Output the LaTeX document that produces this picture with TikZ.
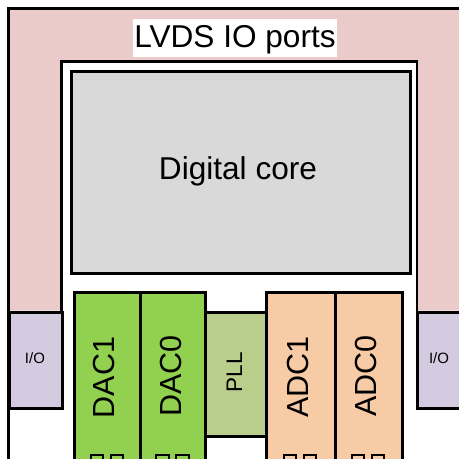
\documentclass[tikz,border=0pt]{standalone}
\usepackage{fontspec}
\setmainfont{Liberation Sans}
\definecolor{lvdspink}{HTML}{EACBCA}
\definecolor{iolav}{HTML}{D4CBE1}
\definecolor{coregray}{HTML}{D9D9D9}
\definecolor{dacgreen}{HTML}{92D050}
\definecolor{pllgreen}{HTML}{B8CE8A}
\definecolor{adcpeach}{HTML}{F8CBA7}
\begin{document}
\begin{tikzpicture}[x=1pt,y=-1pt,line join=miter,
  blockbox/.style={draw=black,line width=3pt,anchor=north west,inner sep=0pt},
  biglbl/.style={inner sep=0pt,text height=22.6pt,text depth=0pt,font=\fontsize{31.6pt}{36pt}\selectfont},
  rotlbl/.style={inner sep=0pt,text height=21.8pt,text depth=0pt,rotate=90,font=\fontsize{30.5pt}{34pt}\selectfont},
  plllbl/.style={inner sep=0pt,text height=16.1pt,text depth=0pt,rotate=90,font=\fontsize{22.5pt}{26pt}\selectfont},
  iolbl/.style={inner sep=0pt,text height=10.7pt,text depth=0pt,font=\fontsize{15pt}{18pt}\selectfont},
  tofu/.style={draw=black,line width=2pt,anchor=north west,inner sep=0pt,minimum width=12.5pt,minimum height=20pt}]
\useasboundingbox (0,0) rectangle (459,459);
\clip (0,0) rectangle (459,459);
\fill[white] (0,0) rectangle (459,459);
% LVDS ring
\fill[lvdspink] (8,8) -- (480,8) -- (480,310.7) -- (416.7,310.7) -- (416.7,61.5) -- (61.5,61.5) -- (61.5,310.7) -- (8,310.7) -- cycle;
\draw[line width=3pt] (8,480) -- (8,8) -- (480,8);
\draw[line width=2.2pt] (61.5,310.7) -- (61.5,61.5) -- (416.7,61.5) -- (416.7,310.7);
\node[fill=white,inner xsep=1.5pt,inner ysep=0pt,text height=27.6pt,text depth=10pt,anchor=base,font=\fontsize{31.6pt}{36pt}\selectfont] (lvds) at (235,47) {LVDS IO ports};
% digital core
\node[blockbox,line width=3.3pt,fill=coregray,minimum width=338.5pt,minimum height=201.5pt] (core) at (70,70) {};
\node[biglbl] (coretext) at (238,168.5) {Digital core};
% IO boxes
\node[blockbox,fill=iolav,minimum width=52.7pt,minimum height=96.6pt] (iol) at (8,310.7) {};
\node[blockbox,fill=iolav,minimum width=60pt,minimum height=96.6pt] (ior) at (416.3,310.7) {};
\node[iolbl] (iolt) at (35,358.5) {I/O};
\node[iolbl] (iort) at (439,358.5) {I/O};
% PLL
\node[blockbox,fill=pllgreen,minimum width=61pt,minimum height=124pt] (pll) at (204,310.5) {};
\node[plllbl] (pllt) at (234,372) {PLL};
% DACs
\node[blockbox,fill=dacgreen,minimum width=65.7pt,minimum height=200pt] (dac1) at (73,291) {};
\node[blockbox,fill=dacgreen,minimum width=65.3pt,minimum height=200pt] (dac0) at (138.7,291) {};
\node[rotlbl] (dac1t) at (103.5,377.5) {DAC1};
\node[rotlbl] (dac0t) at (171,376) {DAC0};
% ADCs
\node[blockbox,fill=adcpeach,minimum width=69.3pt,minimum height=200pt] (adc1) at (265,291) {};
\node[blockbox,fill=adcpeach,minimum width=66.7pt,minimum height=200pt] (adc0) at (334.3,291) {};
\node[rotlbl] (adc1t) at (297.5,377) {ADC1};
\node[rotlbl] (adc0t) at (365.5,376) {ADC0};
% cut-off boxes at the bottom
\node[tofu] (ta) at (89.5,453.5) {};
\node[tofu] (tb) at (109.5,453.5) {};
\node[tofu] (tc) at (155,453.5) {};
\node[tofu] (td) at (175,453.5) {};
\node[tofu] (te) at (282.5,453.5) {};
\node[tofu] (tf) at (302.5,453.5) {};
\node[tofu] (tg) at (350.5,453.5) {};
\node[tofu] (th) at (370.5,453.5) {};
\end{tikzpicture}
\end{document}
